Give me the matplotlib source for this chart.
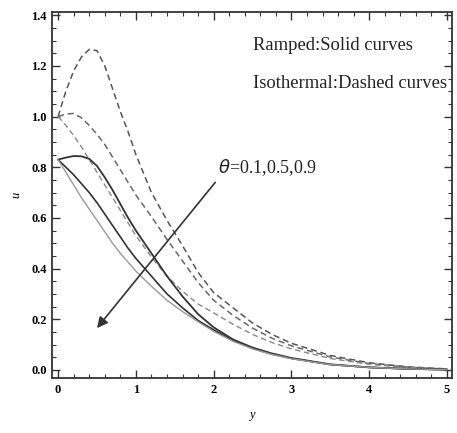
import matplotlib
matplotlib.use("Agg")
import matplotlib.pyplot as plt
from matplotlib.ticker import MultipleLocator

# velocity profiles u(y), theta = 0.1, 0.5, 0.9
y = [0, 0.1, 0.2, 0.3, 0.4, 0.5, 0.6, 0.7, 0.8, 0.9, 1.0, 1.2, 1.4, 1.6, 1.8,
     2.0, 2.25, 2.5, 2.75, 3.0, 3.5, 4.0, 4.5, 5.0]

# isothermal wall (dashed)
iso_1 = [1.0, 1.10, 1.18, 1.235, 1.265, 1.26, 1.20, 1.11, 1.02, 0.94, 0.85, 0.70,
         0.59, 0.49, 0.385, 0.305, 0.245, 0.185, 0.14, 0.105, 0.057, 0.028, 0.012, 0.004]
iso_5 = [1.0, 1.01, 1.012, 0.995, 0.965, 0.93, 0.89, 0.84, 0.79, 0.74, 0.69, 0.605,
         0.515, 0.43, 0.345, 0.275, 0.215, 0.165, 0.125, 0.095, 0.051, 0.025, 0.011, 0.003]
iso_9 = [1.0, 0.965, 0.925, 0.88, 0.83, 0.78, 0.73, 0.68, 0.63, 0.58, 0.53, 0.445,
         0.37, 0.31, 0.26, 0.225, 0.18, 0.14, 0.108, 0.083, 0.045, 0.022, 0.009, 0.003]

# ramped wall (solid)
ramp_1 = [0.83, 0.838, 0.844, 0.843, 0.833, 0.805, 0.76, 0.71, 0.655, 0.60, 0.55, 0.46,
          0.37, 0.29, 0.22, 0.168, 0.12, 0.088, 0.065, 0.047, 0.022, 0.01, 0.004, 0.001]
ramp_5 = [0.83, 0.80, 0.77, 0.735, 0.70, 0.66, 0.615, 0.57, 0.525, 0.48, 0.44, 0.37,
          0.30, 0.245, 0.195, 0.158, 0.115, 0.085, 0.062, 0.045, 0.021, 0.01, 0.004, 0.001]
ramp_9 = [0.83, 0.78, 0.73, 0.68, 0.635, 0.59, 0.545, 0.50, 0.46, 0.425, 0.39, 0.33,
          0.275, 0.23, 0.19, 0.152, 0.113, 0.083, 0.061, 0.044, 0.021, 0.01, 0.004, 0.001]

plt.rcParams['font.family'] = ['Liberation Serif', 'DejaVu Serif']

fig = plt.figure(figsize=(4.57, 4.33), dpi=100)
ax = fig.add_axes([0.114, 0.127, 0.875, 0.845])

ax.plot(y, iso_1, color='#555555', lw=1.1, ls=(0, (4, 2.5)))
ax.plot(y, iso_5, color='#666666', lw=1.1, ls=(0, (4, 2.5)))
ax.plot(y, iso_9, color='#888888', lw=1.0, ls=(0, (4, 2.5)))
ax.plot(y, ramp_1, color='#333333', lw=1.3)
ax.plot(y, ramp_5, color='#333333', lw=1.2)
ax.plot(y, ramp_9, color='#999999', lw=1.0)

ax.set_xlim(-0.077, 5.064)
ax.set_ylim(-0.032, 1.412)

ax.xaxis.set_major_locator(MultipleLocator(1))
ax.xaxis.set_minor_locator(MultipleLocator(0.2))
ax.yaxis.set_major_locator(MultipleLocator(0.2))
ax.yaxis.set_minor_locator(MultipleLocator(0.05))
ax.yaxis.set_major_formatter(plt.FuncFormatter(lambda v, p: f"{v:.1f}"))
ax.tick_params(which='both', direction='in', top=True, right=True, color='#333333')
ax.tick_params(which='major', length=6, width=1.0, labelsize=9, pad=4)
ax.tick_params(which='minor', length=3, width=0.8)
ax.tick_params(axis='x', labeltop=False)
ax.tick_params(axis='y', labelright=False)
for lbl in ax.get_xticklabels() + ax.get_yticklabels():
    lbl.set_fontweight('bold')
for s in ax.spines.values():
    s.set_linewidth(1.3)
    s.set_color('#333333')

ax.set_xlabel('y', fontsize=9, style='italic', labelpad=10)
ax.set_ylabel('u', fontsize=9, style='italic', labelpad=6)

ax.text(2.51, 1.28, 'Ramped:Solid curves', fontsize=13.4, va='center', color='#222222')
ax.text(2.51, 1.13, 'Isothermal:Dashed curves', fontsize=13.4, va='center', color='#222222')

ax.annotate('', xy=(0.5, 0.165), xytext=(2.02, 0.74),
            arrowprops=dict(arrowstyle='-|>', color='#333333', lw=1.2,
                            mutation_scale=16, shrinkA=0, shrinkB=0))
ax.text(2.06, 0.80, r'$\theta$=0.1,0.5,0.9', fontsize=13, va='center', color='#222222')

fig.savefig('out.png', dpi=100)
